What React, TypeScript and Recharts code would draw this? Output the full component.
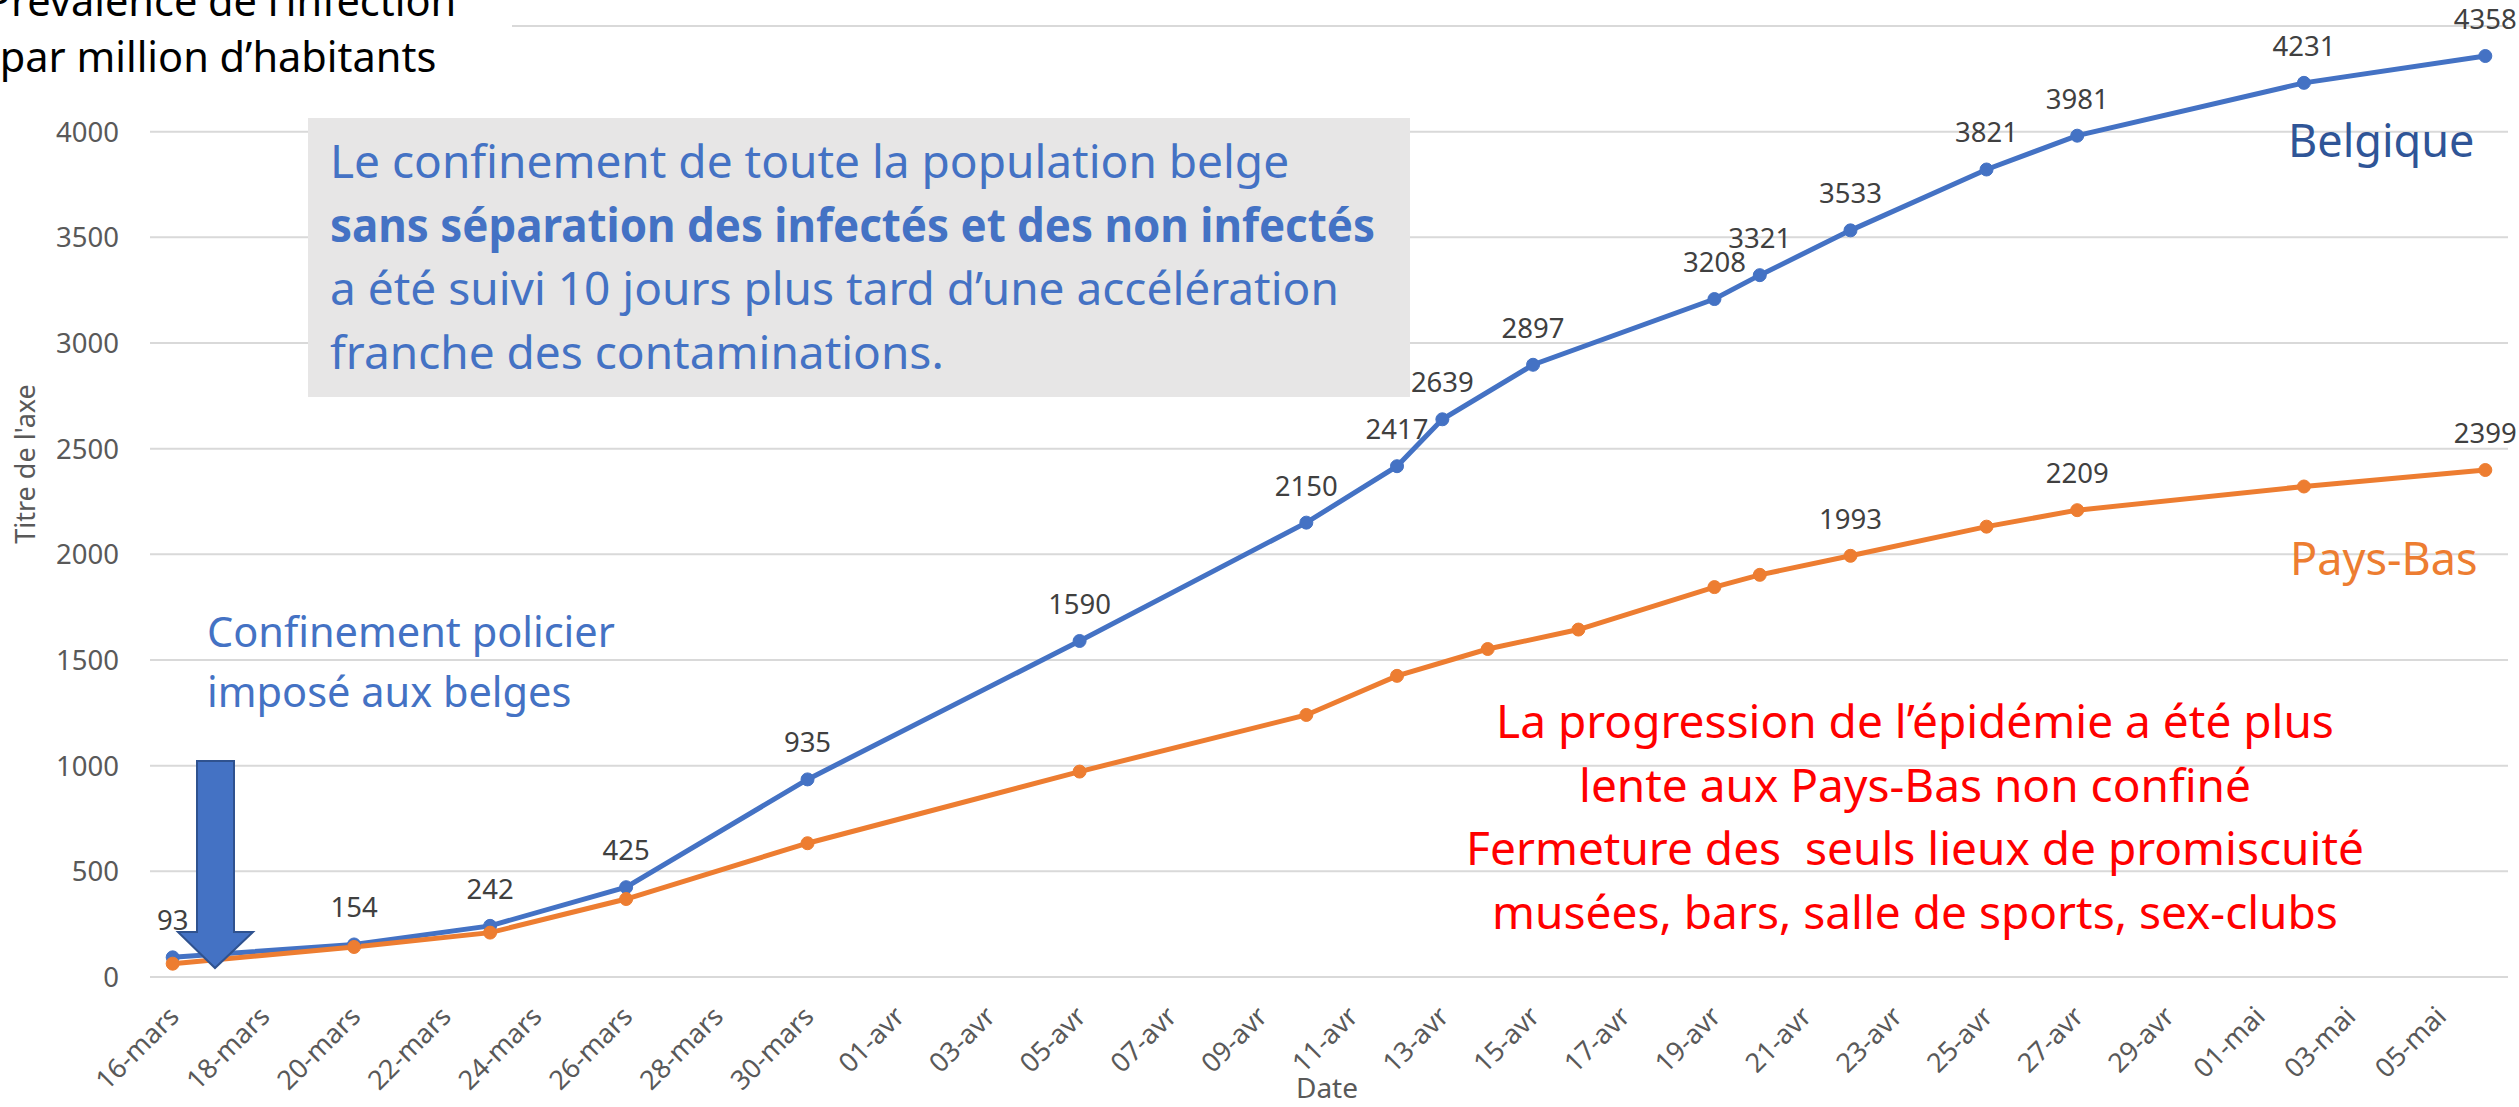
import React from 'react';
import { LineChart, Line, XAxis, YAxis, CartesianGrid } from 'recharts';

// ---- Data ----
const belgiqueDates = ['16-mars', '20-mars', '23-mars', '26-mars', '30-mars', '05-avr', '10-avr', '12-avr', '13-avr', '15-avr', '19-avr', '20-avr', '22-avr', '25-avr', '27-avr', '02-mai', '06-mai'];
const belgiqueValues = [93, 154, 242, 425, 935, 1590, 2150, 2417, 2639, 2897, 3208, 3321, 3533, 3821, 3981, 4231, 4358];

const paysBasDates = ['16-mars', '20-mars', '23-mars', '26-mars', '30-mars', '05-avr', '10-avr', '12-avr', '14-avr', '16-avr', '19-avr', '20-avr', '22-avr', '25-avr', '27-avr', '02-mai', '06-mai'];
const paysBasValues = [63, 142, 210, 369, 633, 972, 1240, 1425, 1552, 1644, 1845, 1903, 1993, 2131, 2209, 2321, 2399];
const paysBasLabeledDates = ['22-avr', '27-avr', '06-mai'];

const xTickLabels = ['16-mars', '18-mars', '20-mars', '22-mars', '24-mars', '26-mars', '28-mars', '30-mars', '01-avr', '03-avr', '05-avr', '07-avr', '09-avr', '11-avr', '13-avr', '15-avr', '17-avr', '19-avr', '21-avr', '23-avr', '25-avr', '27-avr', '29-avr', '01-mai', '03-mai', '05-mai'];
const yTicks = [0, 500, 1000, 1500, 2000, 2500, 3000, 3500, 4000, 4500];

const boxLines = [
  'Le confinement de toute la population belge',
  'sans séparation des infectés et des non infectés',
  'a été suivi 10 jours plus tard d’une accélération',
  'franche des contaminations.',
];
const redLines = [
  'La progression de l’épidémie a été plus',
  'lente aux Pays-Bas non confiné',
  'Fermeture des  seuls lieux de promiscuité',
  'musées, bars, salle de sports, sex-clubs',
];
const titleLines = ['Prévalence de l’infection', 'par million d’habitants'];
const confLines = ['Confinement policier', 'imposé aux belges'];

// ---- helpers ----
const MONTHS: Record<string, number> = { mars: 2, avr: 3, mai: 4 };
const dayOffset = (label: string) => {
  const [d, m] = label.split('-');
  return Math.round((Date.UTC(2020, MONTHS[m], Number(d)) - Date.UTC(2020, 2, 16)) / 86400000);
};

const belgiqueData = belgiqueDates.map((date, i) => ({ date, day: dayOffset(date), value: belgiqueValues[i], labeled: true }));
const paysBasData = paysBasDates.map((date, i) => ({ date, day: dayOffset(date), value: paysBasValues[i], labeled: paysBasLabeledDates.includes(date) }));
const xTicks = xTickLabels.map(dayOffset);

const FONT = '"Noto Sans", sans-serif';
const BLUE = '#4472C4';
const ORANGE = '#ED7D31';

const XTick = (props: any) => {
  const { x, y, payload } = props;
  const idx = xTicks.indexOf(payload.value);
  const label = idx >= 0 ? xTickLabels[idx] : '';
  const bx = x + 8;
  const by = y + 41;
  return (
    <text x={bx} y={by} transform={`rotate(-45 ${bx} ${by})`} textAnchor="end" fill="#595959" fontSize={27} fontFamily={FONT}>
      {label}
    </text>
  );
};

const YTick = (props: any) => {
  const { x, y, payload } = props;
  return (
    <text x={x} y={y + 10} textAnchor="end" fill="#595959" fontSize={27.5} fontFamily={FONT}>
      {payload.value}
    </text>
  );
};

const makeLabel = (data: { labeled: boolean }[]) => (props: any) => {
  const { x, y, value, index } = props;
  if (!data[index] || !data[index].labeled) return <g />;
  return (
    <text x={x} y={y - 27} textAnchor="middle" fill="#404040" fontSize={27.5} fontFamily={FONT}>
      {value}
    </text>
  );
};

export default function App() {
  return (
    <div style={{ position: 'absolute', left: 0, top: 0, width: 2519, height: 1107, background: '#ffffff' }}>
      <LineChart width={2519} height={1107} margin={{ top: 26, right: 11, bottom: 0, left: 0 }}>
        <CartesianGrid vertical={false} stroke="#D9D9D9" strokeWidth={2} />
        <XAxis
          dataKey="day"
          type="number"
          domain={[-0.5, 51.5]}
          ticks={xTicks}
          interval={0}
          height={130}
          axisLine={false}
          tickLine={false}
          tickSize={0}
          tickMargin={0}
          tick={<XTick />}
        />
        <YAxis
          type="number"
          domain={[0, 4500]}
          ticks={yTicks}
          interval={0}
          width={150}
          axisLine={false}
          tickLine={false}
          tickSize={0}
          tickMargin={31}
          tick={<YTick />}
        />
        <Line
          data={belgiqueData}
          dataKey="value"
          name="Belgique"
          stroke={BLUE}
          strokeWidth={5}
          dot={{ r: 6.5, fill: BLUE, stroke: BLUE, strokeWidth: 1 }}
          activeDot={false}
          isAnimationActive={false}
          label={makeLabel(belgiqueData)}
        />
        <Line
          data={paysBasData}
          dataKey="value"
          name="Pays-Bas"
          stroke={ORANGE}
          strokeWidth={5}
          dot={{ r: 6.5, fill: ORANGE, stroke: ORANGE, strokeWidth: 1 }}
          activeDot={false}
          isAnimationActive={false}
          label={makeLabel(paysBasData)}
        />
      </LineChart>
      <svg width={2519} height={1107} style={{ position: 'absolute', left: 0, top: 0, pointerEvents: 'none' }}>
        {/* title */}
        <rect x={0} y={0} width={512} height={100} fill="#ffffff" />
        <text x={221} y={16} textAnchor="middle" fontSize={41.5} fill="#000000" fontFamily={FONT}>{titleLines[0]}</text>
        <text x={218} y={72} textAnchor="middle" fontSize={41.5} fill="#000000" fontFamily={FONT}>{titleLines[1]}</text>
        {/* axis titles */}
        <text x={35} y={464} transform="rotate(-90 35 464)" textAnchor="middle" fontSize={27} fill="#595959" fontFamily={FONT}>Titre de l'axe</text>
        <text x={1327} y={1098} textAnchor="middle" fontSize={28} fill="#595959" fontFamily={FONT}>Date</text>
        {/* grey box */}
        <rect x={308} y={118} width={1102} height={279} fill="#E7E6E6" />
        {boxLines.map((t, i) => (
          <text
            key={i}
            x={330}
            y={178 + i * 63.5}
            fontSize={46}
            fill={BLUE}
            fontFamily={FONT}
            fontWeight={i === 1 ? 700 : 400}
            {...(i === 1 ? { textLength: 1045, lengthAdjust: 'spacingAndGlyphs' } : {})}
          >
            {t}
          </text>
        ))}
        {/* confinement policier */}
        {confLines.map((t, i) => (
          <text key={i} x={207} y={647 + i * 60} fontSize={41.5} fill={BLUE} fontFamily={FONT}>{t}</text>
        ))}
        {/* red text */}
        {redLines.map((t, i) => (
          <text key={i} x={1915} y={738 + i * 63.5} textAnchor="middle" fontSize={46} fill="#FF0000" fontFamily={FONT} style={{ whiteSpace: 'pre' }}>{t}</text>
        ))}
        {/* series names */}
        <text x={2288} y={157} fontSize={45} fill="#2F5597" fontFamily={FONT}>Belgique</text>
        <text x={2290} y={575} fontSize={45} fill={ORANGE} fontFamily={FONT}>Pays-Bas</text>
        {/* arrow */}
        <polygon
          points="197,761 234,761 234,932 253,932 215,968 178,932 197,932"
          fill={BLUE}
          stroke="#2F528F"
          strokeWidth={2}
        />
      </svg>
    </div>
  );
}
